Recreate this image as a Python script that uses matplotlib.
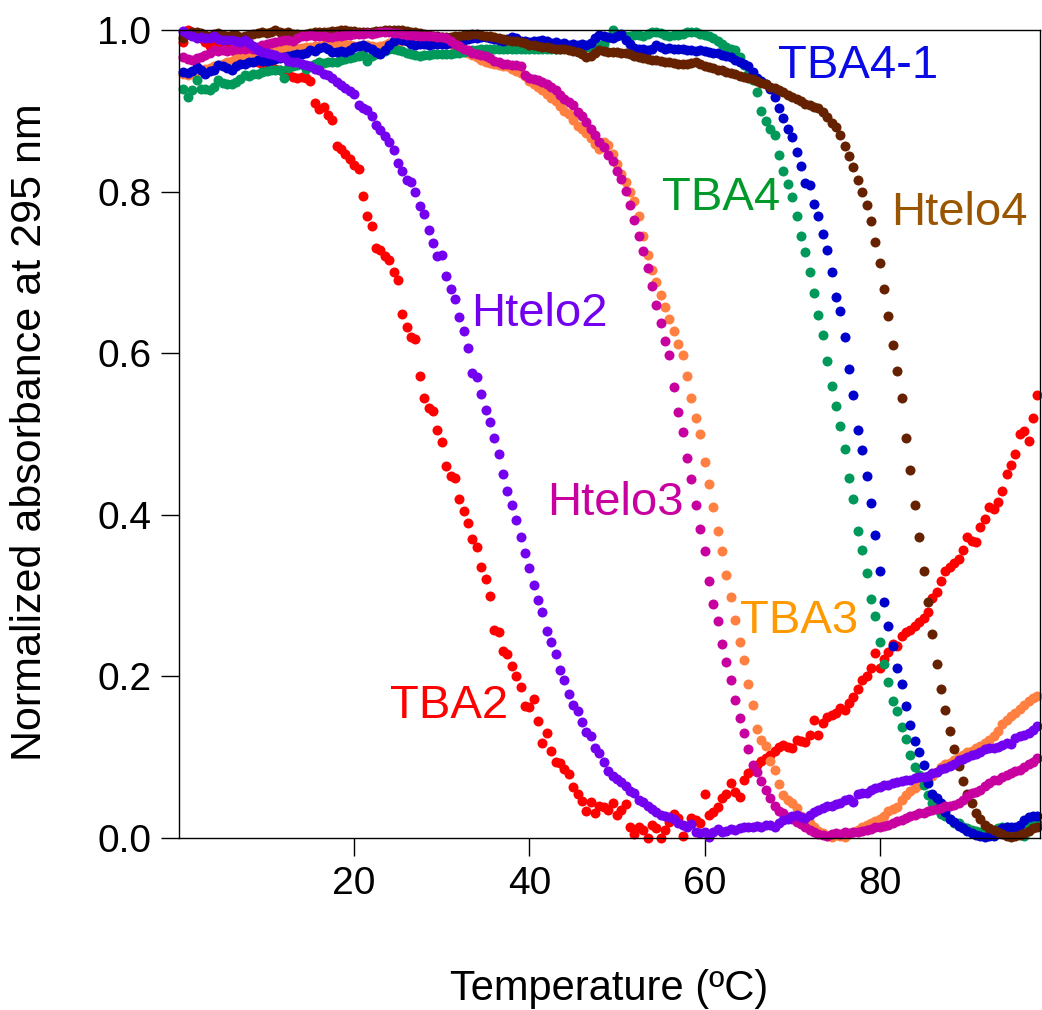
import numpy as np
import matplotlib
matplotlib.use("Agg")
import matplotlib.pyplot as plt

plt.rcParams['font.family'] = ['Liberation Sans', 'DejaVu Sans']

# temperature grid (degC)
T_START, T_END, T_STEP = 0.5, 98.0, 0.5
temperature = np.arange(T_START, T_END + T_STEP / 2, T_STEP)

tba2 = [
    .985, 1.0, .998, .995, .99, .985, .98, .982, .978, .98,
    .978, .975, .972, .97, .968, .966, .962, .96, .958, .955,
    .955, .952, .95, .948, .945, .942, .94, .942, .94, .937,
    .91, .902, .905, .895, .889, .856, .853, .846, .84, .833,
    .828, .795, .77, .758, .73, .728, .72, .715, .70, .69,
    .648, .632, .62, .618, .572, .545, .532, .529, .505, .49,
    .46, .448, .445, .42, .405, .39, .37, .36, .335, .32,
    .30, .258, .255, .232, .228, .213, .20, .187, .163, .162,
    .172, .145, .117, .13, .108, .094, .093, .085, .079, .063,
    .055, .046, .034, .045, .031, .04, .038, .035, .043, .028,
    .035, .042, .014, .005, .014, .01, .0, .016, .012, .0,
    .01, .02, .03, .025, .002, .015, .025, .022, .018, .054,
    .028, .032, .038, .049, .054, .068, .057, .051, .072, .08,
    .084, .09, .095, .099, .103, .108, .113, .115, .113, .111,
    .121, .12, .119, .128, .146, .127, .142, .15, .152, .155,
    .161, .158, .167, .175, .185, .195, .20, .21, .229, .21,
    .222, .23, .24, .238, .25, .255, .258, .262, .267, .272,
    .28, .297, .305, .318, .33, .335, .34, .345, .356, .372,
    .367, .366, .385, .395, .41, .407, .416, .43, .45, .462,
    .475, .50, .504, .491, .52, .548,
]

htelo2 = [
    .999, .995, .992, .99, .991, .99, .99, .992, .989, .988,
    .988, .988, .987, .985, .988, .984, .98, .975, .973, .972,
    .97, .969, .967, .966, .962, .96, .96, .958, .957, .955,
    .952, .95, .946, .944, .94, .936, .932, .928, .924, .921,
    .907, .904, .901, .894, .883, .876, .869, .862, .852, .836,
    .826, .814, .812, .80, .782, .772, .752, .737, .72, .722,
    .695, .68, .667, .645, .628, .606, .575, .571, .55, .53,
    .515, .495, .475, .45, .43, .412, .393, .372, .353, .334,
    .313, .295, .28, .256, .243, .228, .208, .196, .178, .165,
    .157, .143, .131, .126, .112, .105, .094, .083, .077, .073,
    .069, .064, .058, .056, .047, .044, .039, .036, .032, .029,
    .027, .026, .023, .018, .016, .013, .017, .008, .006, .007,
    .001, .007, .011, .008, .009, .011, .01, .012, .013, .014,
    .014, .015, .014, .016, .016, .013, .018, .022, .023, .027,
    .028, .026, .025, .028, .032, .035, .037, .039, .039, .042,
    .043, .047, .048, .044, .055, .056, .056, .06, .062, .063,
    .065, .066, .068, .069, .07, .072, .072, .074, .075, .076,
    .077, .08, .082, .085, .087, .089, .091, .096, .098, .10,
    .103, .104, .107, .11, .111, .112, .113, .115, .118, .116,
    .124, .126, .128, .13, .134, .138,
]

htelo3 = [
    .966, .964, .963, .965, .967, .969, .972, .975, .974, .975,
    .974, .975, .976, .976, .977, .978, .977, .979, .982, .983,
    .984, .985, .986, .988, .988, .987, .99, .992, .993, .994,
    .993, .993, .992, .991, .991, .992, .993, .994, .994, .995,
    .995, .995, .996, .995, .996, .997, .998, .997, .996, .996,
    .995, .994, .994, .994, .993, .993, .992, .992, .991, .991,
    .99, .986, .983, .98, .977, .975, .972, .97, .969, .968,
    .965, .962, .96, .958, .958, .957, .957, .956, .944, .94,
    .939, .938, .936, .933, .93, .926, .92, .915, .911, .907,
    .899, .893, .886, .878, .87, .862, .855, .845, .838, .826,
    .815, .801, .783, .765, .745, .727, .705, .683, .66, .637,
    .615, .598, .558, .527, .503, .47, .444, .412, .383, .355,
    .318, .29, .268, .24, .218, .195, .171, .148, .13, .11,
    .09, .082, .07, .06, .05, .04, .034, .031, .026, .023,
    .02, .017, .013, .01, .007, .005, .004, .002, .005, .006,
    .005, .007, .006, .007, .007, .009, .01, .011, .013, .014,
    .015, .016, .019, .021, .022, .025, .027, .029, .031, .031,
    .033, .035, .036, .037, .039, .04, .041, .043, .047, .052,
    .056, .057, .06, .064, .068, .072, .072, .075, .078, .081,
    .083, .084, .088, .091, .094, .099,
]

tba3 = [
    .945, .944, .946, .948, .95, .952, .953, .955, .957, .958,
    .96, .962, .965, .967, .968, .97, .971, .972, .973, .974,
    .975, .975, .976, .976, .977, .977, .978, .978, .979, .979,
    .98, .98, .981, .981, .982, .982, .982, .983, .981, .98,
    .98, .981, .981, .98, .979, .98, .982, .984, .985, .986,
    .987, .987, .988, .988, .989, .989, .989, .988, .988, .987,
    .985, .983, .98, .977, .974, .972, .969, .966, .963, .961,
    .959, .958, .957, .956, .955, .952, .949, .947, .943, .937,
    .933, .929, .926, .921, .916, .912, .906, .90, .896, .889,
    .881, .877, .872, .866, .859, .853, .862, .858, .846, .834,
    .822, .812, .80, .788, .77, .745, .722, .703, .688, .672,
    .657, .642, .627, .612, .598, .572, .545, .52, .50, .465,
    .438, .41, .38, .355, .325, .298, .27, .243, .22, .19,
    .165, .135, .121, .114, .095, .084, .067, .053, .047, .043,
    .037, .027, .022, .019, .013, .009, .006, .003, .001, .004,
    .002, .001, .005, .008, .01, .013, .016, .019, .021, .024,
    .027, .033, .036, .038, .047, .053, .058, .062, .066, .068,
    .072, .077, .082, .088, .091, .093, .097, .10, .103, .106,
    .108, .111, .114, .117, .121, .126, .132, .141, .146, .151,
    .155, .16, .165, .169, .173, .176,
]

tba4 = [
    .927, .917, .926, .938, .927, .927, .926, .93, .938, .935,
    .933, .933, .936, .939, .944, .943, .945, .946, .948, .949,
    .95, .95, .951, .94, .953, .955, .957, .958, .952, .956,
    .958, .96, .959, .961, .96, .961, .963, .964, .965, .966,
    .968, .969, .962, .968, .97, .972, .974, .976, .976, .975,
    .974, .972, .97, .969, .968, .969, .969, .97, .97, .97,
    .97, .97, .971, .972, .973, .974, .975, .975, .976, .976,
    .976, .976, .976, .976, .977, .976, .976, .976, .976, .976,
    .976, .976, .977, .977, .977, .977, .977, .978, .978, .978,
    .978, .978, .979, .979, .98, .981, .983, .99, 1.0, .995,
    .994, .993, .992, .994, .994, .993, .995, .997, .998, .996,
    .994, .993, .994, .994, .995, .997, .998, .997, .995, .994,
    .993, .99, .987, .983, .979, .977, .975, .966, .957, .946,
    .938, .923, .90, .887, .878, .87, .845, .826, .81, .793,
    .77, .745, .725, .70, .675, .647, .622, .59, .56, .535,
    .51, .482, .445, .42, .38, .357, .328, .296, .275, .243,
    .215, .193, .17, .157, .137, .122, .103, .088, .078, .065,
    .053, .043, .036, .03, .027, .023, .019, .018, .014, .012,
    .01, .009, .007, .005, .006, .009, .012, .013, .014, .012,
    .01, .007, .002, .013, .016, .018,
]

tba4_1 = [
    .948, .947, .949, .954, .95, .946, .949, .951, .957, .956,
    .953, .95, .955, .958, .958, .96, .961, .963, .962, .962,
    .963, .964, .965, .966, .968, .969, .97, .97, .972, .975,
    .974, .978, .979, .976, .973, .973, .974, .973, .975, .979,
    .98, .981, .979, .976, .973, .97, .975, .981, .986, .989,
    .988, .986, .983, .982, .983, .983, .982, .983, .983, .983,
    .983, .984, .985, .986, .988, .989, .99, .99, .991, .991,
    .99, .989, .988, .987, .989, .991, .99, .987, .986, .985,
    .986, .987, .988, .986, .984, .985, .983, .984, .982, .983,
    .981, .983, .982, .984, .99, .994, .992, .991, .99, .993,
    .995, .988, .983, .978, .976, .977, .975, .976, .981, .979,
    .977, .978, .976, .977, .976, .975, .975, .974, .975, .974,
    .973, .972, .971, .969, .968, .967, .963, .96, .958, .955,
    .948, .941, .937, .933, .927, .917, .904, .891, .878, .868,
    .849, .832, .811, .808, .785, .77, .748, .728, .70, .67,
    .652, .62, .58, .548, .505, .48, .448, .415, .375, .33,
    .292, .262, .238, .21, .19, .163, .14, .12, .107, .09,
    .068, .055, .05, .043, .032, .024, .02, .015, .012, .009,
    .006, .004, .003, .001, .002, .003, .009, .012, .014, .013,
    .014, .016, .022, .026, .027, .027,
]

htelo4 = [
    .99, .995, .998, .997, .996, .994, .993, .995, .996, .994,
    .993, .994, .994, .991, .992, .994, .995, .996, .997, .996,
    .998, 1.0, .998, .996, .997, .995, .995, .994, .995, .996,
    .997, .997, .998, .998, .999, .999, 1.0, 1.0, .999, .999,
    .998, .998, .998, .998, .999, .999, 1.0, 1.0, 1.0, 1.0,
    1.0, .999, .998, .997, .996, .995, .994, .993, .992, .991,
    .991, .991, .992, .993, .994, .994, .995, .995, .994, .993,
    .992, .991, .99, .989, .988, .987, .986, .985, .984, .982,
    .981, .98, .979, .979, .978, .977, .977, .976, .975, .974,
    .973, .97, .966, .968, .972, .975, .974, .973, .973, .973,
    .972, .971, .97, .968, .966, .965, .964, .963, .963, .962,
    .961, .96, .959, .958, .958, .958, .959, .96, .958, .956,
    .954, .953, .951, .95, .948, .947, .945, .943, .942, .94,
    .939, .937, .935, .933, .93, .928, .926, .923, .92, .917,
    .914, .912, .909, .907, .905, .903, .898, .892, .885, .88,
    .87, .856, .844, .83, .814, .80, .784, .763, .738, .712,
    .68, .646, .61, .578, .545, .495, .455, .412, .372, .33,
    .292, .252, .215, .185, .158, .133, .11, .089, .07, .054,
    .043, .031, .023, .016, .012, .01, .007, .005, .002, .001,
    .002, .004, .006, .009, .012, .014,
]

# (values, dot colour) in drawing order
series = [
    (tba2, '#FF0000'),
    (tba3, '#FF8040'),
    (tba4, '#00995A'),
    (tba4_1, '#0000CC'),
    (htelo4, '#662200'),
    (htelo3, '#C800A0'),
    (htelo2, '#7300EE'),
]

labels = ['TBA4-1', 'TBA4', 'Htelo4', 'Htelo2', 'Htelo3', 'TBA3', 'TBA2']
label_x = [68.4, 55.1, 81.3, 33.3, 42.0, 64.1, 24.1]
label_y = [0.941, 0.777, 0.759, 0.634, 0.400, 0.254, 0.149]
label_colors = ['#0A0AE6', '#00992A', '#995500', '#7300EE', '#C800A0', '#FF9900', '#FF0000']

x_ticks = [20, 40, 60, 80]
y_ticks = [0.0, 0.2, 0.4, 0.6, 0.8, 1.0]

fig = plt.figure(figsize=(10.42, 10.10), dpi=100)
ax = fig.add_axes([179 / 1042, 172 / 1010, 861 / 1042, 808 / 1010])

for vals, col in series:
    ax.plot(temperature, vals, linestyle='none', marker='o', markersize=7.2,
            markeredgewidth=0, color=col, clip_on=False)

for txt, lx, ly, lc in zip(labels, label_x, label_y, label_colors):
    ax.text(lx, ly, txt, color=lc, fontsize=34, ha='left', va='baseline')

ax.set_xlim(0, 98.3)
ax.set_ylim(0, 1.0)
ax.set_xticks(x_ticks)
ax.set_xticklabels([str(t) for t in x_ticks])
ax.set_yticks(y_ticks)
ax.set_yticklabels([f'{t:.1f}' for t in y_ticks])
ax.tick_params(axis='both', direction='out', length=13, width=1.0,
               labelsize=28, pad=7, top=False, right=False)
for sp in ax.spines.values():
    sp.set_linewidth(1.0)
    sp.set_color('black')

fig.text(30 / 1042, 0.572, 'Normalized absorbance at 295 nm', rotation=90,
         ha='center', va='center', fontsize=31)
fig.text(609.5 / 1042, 10 / 1010, 'Temperature (ºC)', ha='center',
         va='baseline', fontsize=30)

fig.savefig('out.png', dpi=100)
